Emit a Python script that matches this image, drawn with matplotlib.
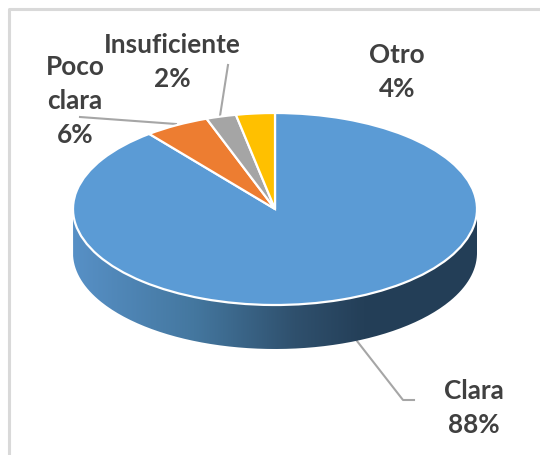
import numpy as np
import matplotlib
matplotlib.use("Agg")
import matplotlib.pyplot as plt
from matplotlib.colors import LinearSegmentedColormap
from matplotlib.path import Path
from matplotlib.patches import PathPatch

plt.rcParams['font.family'] = ['Lato', 'DejaVu Sans']

# drawn shares, read from the slice edges (the 3D view squeezes the small ones)
categories = ['Clara', 'Poco\nclara', 'Insuficiente', 'Otro']
slice_shares = [89.3, 5.2, 2.4, 3.1]
percent_labels = ['88%', '6%', '2%', '4%']
colors = ['#5B9BD5', '#ED7D31', '#A5A5A5', '#FFC000']

W, H = 540, 455
fig = plt.figure(figsize=(W / 100, H / 100), dpi=100)

# whole-figure axes in pixels, for frame, labels and leader lines
bg = fig.add_axes([0, 0, 1, 1])
bg.set_xlim(0, W)
bg.set_ylim(H, 0)
bg.axis('off')

# frame is only visible on the top and left
bg.plot([9, 9, 540], [455, 9, 9], color='#d9d9d9', lw=2.2, solid_capstyle='butt')

# pie top is a unit circle squeezed into the ellipse, wall hangs below it
left, right, top, bottom = 73, 477, 113, 305
wall_px = 44
depth = wall_px / ((bottom - top) / 2)
ax = fig.add_axes([left / W, 1 - (bottom + wall_px) / H, (right - left) / W, (bottom + wall_px - top) / H])
ax.pie(slice_shares, colors=colors, startangle=90, counterclock=False, radius=1,
       wedgeprops={'edgecolor': 'white', 'linewidth': 1.6, 'zorder': 3})

# side wall with the dark shading
t = np.linspace(0, np.pi, 200)
xs = np.cos(t)
ys = -np.sin(t)
verts = np.concatenate([np.c_[xs, ys], np.c_[xs[::-1], ys[::-1] - depth]])
wall = PathPatch(Path(verts), transform=ax.transData, fc='none', ec='none')
ax.add_patch(wall)
shade = LinearSegmentedColormap.from_list('wall', [(0, '#5790c6'), (0.3, '#44779f'),
                                                   (0.55, '#2f506d'), (0.72, '#243f58'),
                                                   (1, '#233e57')])
im = ax.imshow(np.linspace(0, 1, 256)[None, :], extent=[-1, 1, -1 - depth, 0], cmap=shade,
               aspect='auto', zorder=1)
ax.set_aspect('auto')
ax.set_xlim(-1, 1)
ax.set_ylim(-1 - depth, 1)
ax.axis('off')
for p in ax.patches:
    p.set_clip_on(False)
im.set_clip_path(wall)

# leader lines
lead = '#a6a6a6'
bg.plot([80, 176], [117, 124], color=lead, lw=1.5, zorder=5)
bg.plot([228, 220], [65, 116], color=lead, lw=1.5, zorder=5)
bg.plot([357, 403, 414], [341, 400, 400], color=lead, lw=1.5, zorder=5)

# labels
txt = dict(color='#404040', fontsize=18.8, fontweight='bold', ha='center', va='center',
           linespacing=1.48)
bg.text(474, 408, categories[0] + '\n' + percent_labels[0], **txt)
bg.text(75, 101, categories[1] + '\n' + percent_labels[1], **txt)
bg.text(172, 62, categories[2] + '\n' + percent_labels[2], **txt)
bg.text(397, 72, categories[3] + '\n' + percent_labels[3], **txt)

fig.savefig('out.png', dpi=100)
